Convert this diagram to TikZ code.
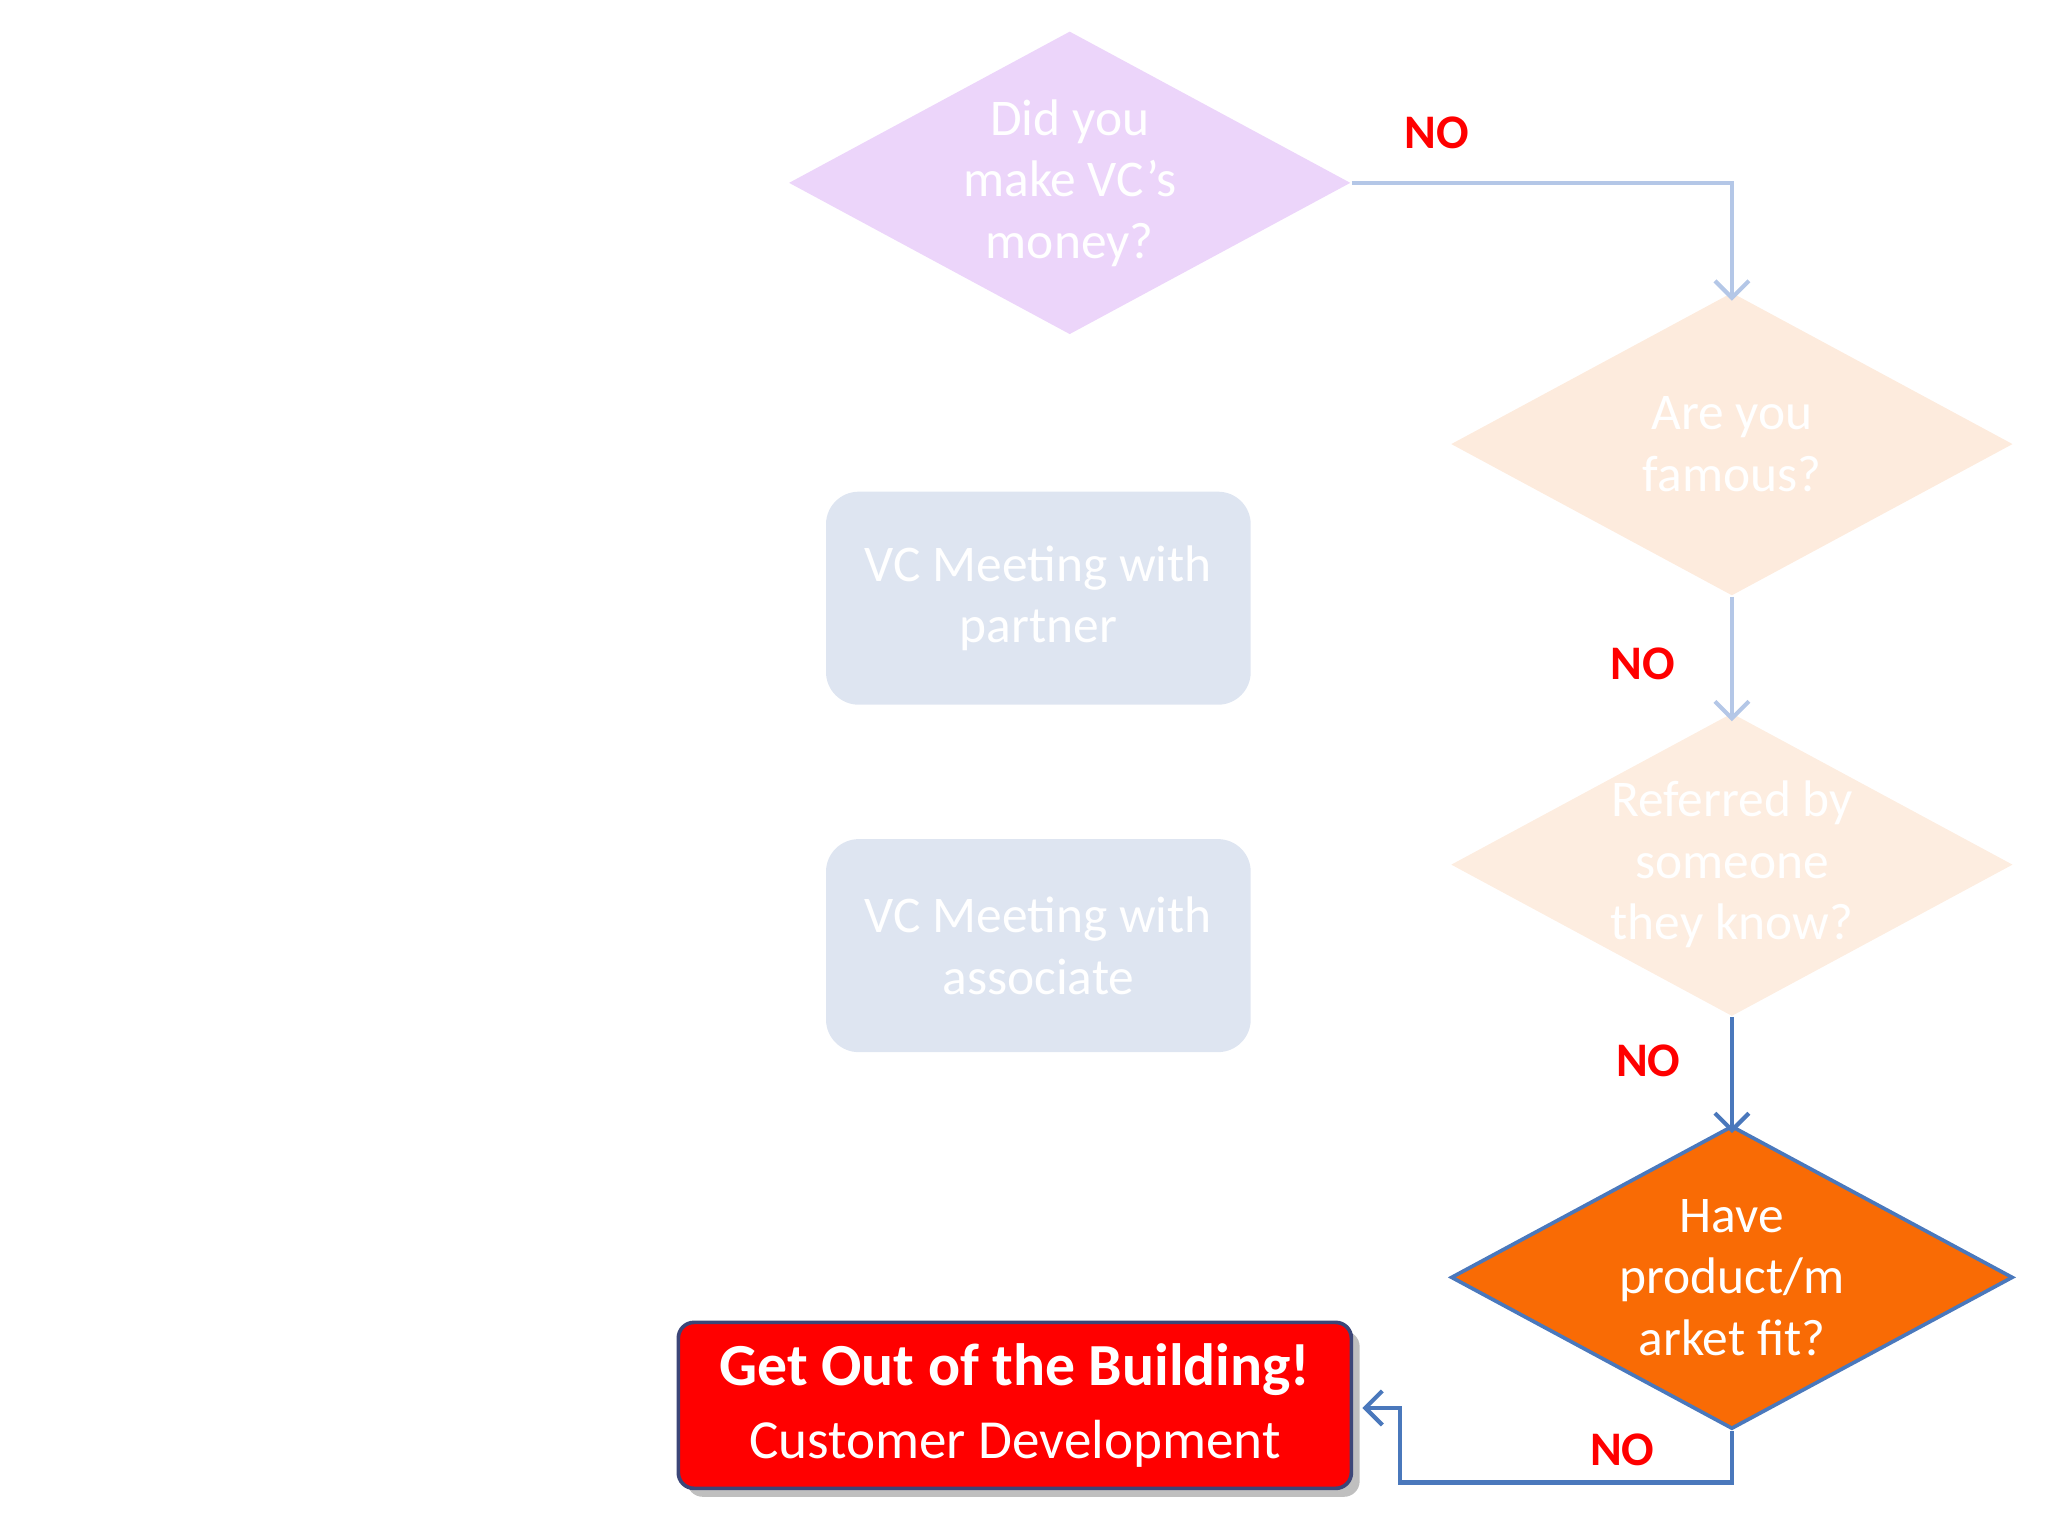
\documentclass[tikz,border=0pt]{standalone}
\usepackage{fontspec}
\setmainfont{Carlito}
\usetikzlibrary{shapes.geometric,arrows.meta}
\definecolor{lb}{HTML}{B4C7E7}
\definecolor{db}{HTML}{4A78BC}
\definecolor{purp}{RGB}{236,213,250}
\definecolor{peach}{RGB}{253,235,221}
\definecolor{peachb}{RGB}{253,237,224}
\definecolor{orng}{RGB}{249,107,5}
\definecolor{pblue}{RGB}{222,229,241}
\definecolor{rbord}{RGB}{60,70,120}
\tikzset{
 dia/.style={diamond,inner sep=0pt,minimum width=4.3cm,minimum height=2.32cm},
 dtext/.style={text=white,align=center,font=\fontsize{11.2}{13.4}\selectfont},
 box/.style={rounded corners=0.25cm,minimum width=3.25cm,minimum height=1.63cm,fill=pblue,text=white,align=center,font=\fontsize{11.2}{13.4}\selectfont},
 lbl/.style={text=red,font=\bfseries\fontsize{10.5}{12}\selectfont},
 arr/.style={line width=0.9pt,-{Straight Barb[length=1.3mm,width=2.6mm]}}
}
\begin{document}
\begin{tikzpicture}[x=0.01cm,y=-0.01cm]
\useasboundingbox (0,0) rectangle (1568,1176);
\node[dia,fill=purp] (d1) at (819,140) {};
\node[dtext] at (d1) {Did you\\make VC’s\\money?};
\node[dia,fill=peach] (d2) at (1326,340) {};
\node[dtext] at (d2) {Are you\\famous?};
\node[dia,fill=peachb] (d3) at (1326,662) {};
\node[dtext] at (d3) {Referred by\\someone\\they know?};
\node[dia,fill=orng,draw=db,line width=0.8pt] (d4) at (1326,978) {};
\node[dtext] at (d4) {Have\\product/m\\arket fit?};
\node[box] (b1) at (795,458) {VC Meeting with\\partner};
\node[box] (b2) at (795,724) {VC Meeting with\\associate};
\fill[gray!50,rounded corners=0.12cm] (526,1019) rectangle (1041,1146);
\node[draw=rbord,line width=0.8pt,fill=red,rounded corners=0.12cm,minimum width=5.15cm,minimum height=1.27cm,text=white,align=center,font=\fontsize{12}{16}\selectfont] (r) at (777,1076) {{\bfseries\fontsize{13}{16}\selectfont Get Out of the Building!}\\Customer Development};
\coordinate (c1) at (1326,1135);
\coordinate (c2) at (1072,1135);
\coordinate (c3) at (1072,1078);
\draw[arr,lb] (d1.east) -| ([yshift=-2]d2.north);
\draw[arr,lb] (d2.south) -- ([yshift=-2]d3.north);
\draw[arr,db] (d3.south) -- ([yshift=-2]d4.north);
\draw[arr,db] (d4.south) -- (c1) -- (c2) -- (c3) -- ([xshift=2]r.east |- c3);
\node[lbl] at (1100,102) {NO};
\node[lbl] at (1258,508) {NO};
\node[lbl] at (1262,812) {NO};
\node[lbl] at (1242,1110) {NO};
\end{tikzpicture}
\end{document}
